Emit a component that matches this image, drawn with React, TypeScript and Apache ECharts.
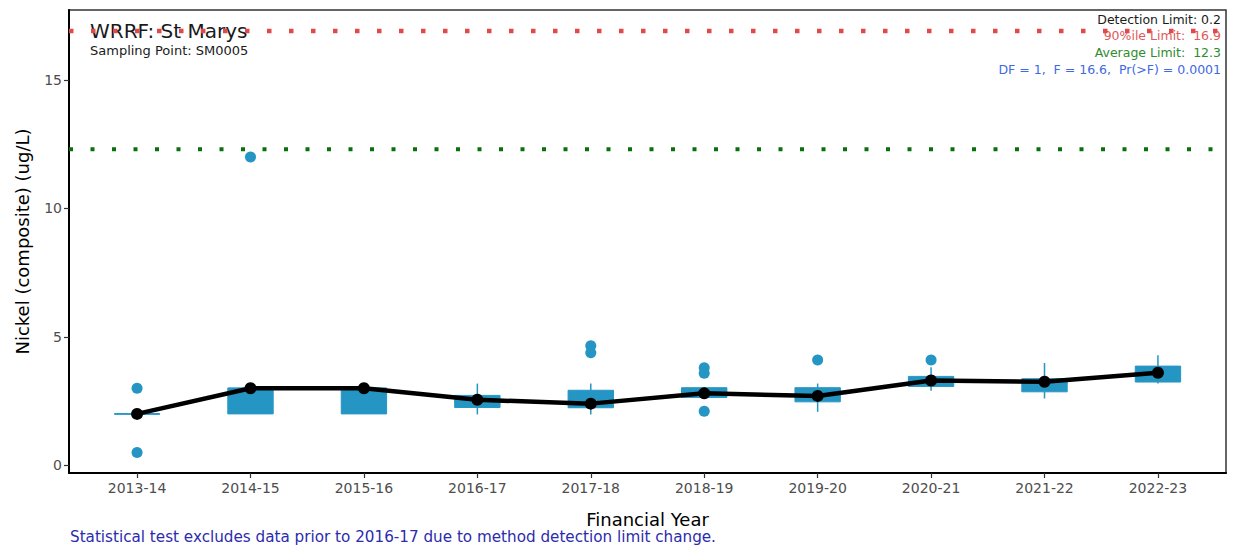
import React, { useEffect, useRef } from 'react';
import * as echarts from 'echarts';

const categories = ['2013-14', '2014-15', '2015-16', '2016-17', '2017-18', '2018-19', '2019-20', '2020-21', '2021-22', '2022-23'];
const whiskerLow = [2.0, 2.0, 2.0, 1.98, 1.98, 2.64, 2.08, 2.9, 2.6, 3.18];
const q1 = [2.0, 2.0, 2.0, 2.25, 2.24, 2.64, 2.47, 3.07, 2.86, 3.24];
const median = [2.0, 3.0, 3.0, 2.5, 2.5, 2.8, 2.7, 3.3, 3.2, 3.6];
const q3 = [2.0, 3.0, 3.0, 2.72, 2.92, 3.02, 3.02, 3.46, 3.37, 3.86];
const whiskerHigh = [2.0, 3.0, 3.0, 3.18, 3.18, 3.02, 3.18, 3.82, 3.98, 4.28];
const means = [2.0, 3.0, 3.0, 2.55, 2.4, 2.8, 2.7, 3.3, 3.25, 3.6];
const outliers: [number, number][] = [
  [0, 3.0], [0, 0.5], [1, 12.0], [4, 4.65], [4, 4.38], [5, 3.8], [5, 3.58], [5, 2.1], [6, 4.1], [7, 4.1],
];
const yTicks = [0, 5, 10, 15];
const xTicks = categories.map((_, i) => i);
const limit90 = 16.9;
const averageLimit = 12.3;
const xMin = -0.6;
const xMax = 9.6;
const yMin = -0.3;
const yMax = 17.72;

const FONT = 'DejaVu Sans, Liberation Sans, sans-serif';
const BOX = '#2596C4';

export default function App() {
  const ref = useRef<HTMLDivElement>(null);
  useEffect(() => {
    if (!ref.current) return;
    const chart = echarts.init(ref.current, null, { renderer: 'svg' });
    const option: any = {
      animation: false,
      backgroundColor: '#ffffff',
      textStyle: { fontFamily: FONT },
      grid: {
        left: 69, right: 8, top: 10, bottom: 77,
        show: true, borderColor: '#333', borderWidth: 1.5, backgroundColor: 'transparent',
      },
      xAxis: {
        type: 'value', min: xMin, max: xMax,
        name: 'Financial Year', nameLocation: 'middle', nameGap: 37,
        nameTextStyle: { fontSize: 18, color: '#000', fontFamily: FONT },
        axisLine: { show: true, onZero: false, lineStyle: { color: '#000', width: 2 } },
        axisTick: { show: true, length: 5, lineStyle: { color: '#333', width: 1.2 }, customValues: xTicks },
        axisLabel: {
          color: '#4D4D4D', fontSize: 14, margin: 8, fontFamily: FONT,
          customValues: xTicks,
          formatter: (v: number) => categories[Math.round(v)] ?? '',
        },
        splitLine: { show: false },
      },
      yAxis: {
        type: 'value', min: yMin, max: yMax,
        name: 'Nickel (composite) (ug/L)', nameLocation: 'middle', nameGap: 38,
        nameTextStyle: { fontSize: 18, color: '#000', fontFamily: FONT },
        axisLine: { show: true, onZero: false, lineStyle: { color: '#000', width: 2 } },
        axisTick: { show: true, length: 5, lineStyle: { color: '#333', width: 1.2 }, customValues: yTicks },
        axisLabel: { color: '#4D4D4D', fontSize: 14, margin: 7, fontFamily: FONT, customValues: yTicks },
        splitLine: { show: false },
      },
      graphic: {
        elements: [
          { type: 'text', z: 0, style: { text: 'WRRF: St Marys', x: 90, y: 31, fontSize: 20, fontFamily: FONT, fill: '#1a1a1a', verticalAlign: 'middle' } },
          { type: 'text', z: 0, style: { text: 'Sampling Point: SM0005', x: 90, y: 50, fontSize: 13, fontFamily: FONT, fill: '#1a1a1a', verticalAlign: 'middle' } },
          { type: 'text', z: 0, style: { text: 'Detection Limit: 0.2', x: 1221, y: 19, fontSize: 12.5, fontFamily: FONT, fill: '#1a1a1a', align: 'right', verticalAlign: 'middle' } },
          { type: 'text', z: 0, style: { text: '90%ile Limit:  16.9', x: 1221, y: 35, fontSize: 12.5, fontFamily: FONT, fill: '#E05A5A', align: 'right', verticalAlign: 'middle' } },
          { type: 'text', z: 0, style: { text: 'Average Limit:  12.3', x: 1221, y: 52, fontSize: 12.5, fontFamily: FONT, fill: '#2E8B2E', align: 'right', verticalAlign: 'middle' } },
          { type: 'text', z: 0, style: { text: 'DF = 1,  F = 16.6,  Pr(>F) = 0.0001', x: 1221, y: 69, fontSize: 12.5, fontFamily: FONT, fill: '#4169E1', align: 'right', verticalAlign: 'middle' } },
          { type: 'text', z: 0, style: { text: 'Statistical test excludes data prior to 2016-17 due to method detection limit change.', x: 70, y: 537, fontSize: 15.2, fontFamily: FONT, fill: '#2B2BAE', verticalAlign: 'middle' } },
        ],
      },
      series: [
        {
          type: 'custom',
          z: 2,
          data: categories.map((_, i) => [i, whiskerLow[i], q1[i], median[i], q3[i], whiskerHigh[i]]),
          encode: { x: 0, y: [1, 2, 3, 4, 5] },
          renderItem: (params: any, api: any) => {
            const x = api.value(0);
            const lo = api.coord([x, api.value(1)]);
            const b1 = api.coord([x, api.value(2)]);
            const md = api.coord([x, api.value(3)]);
            const b3 = api.coord([x, api.value(4)]);
            const hi = api.coord([x, api.value(5)]);
            const w = api.size([0.4, 0])[0];
            const cx = lo[0];
            return {
              type: 'group',
              children: [
                { type: 'line', shape: { x1: cx, y1: hi[1], x2: cx, y2: b3[1] }, style: { stroke: BOX, lineWidth: 1.5 } },
                { type: 'line', shape: { x1: cx, y1: b1[1], x2: cx, y2: lo[1] }, style: { stroke: BOX, lineWidth: 1.5 } },
                { type: 'rect', shape: { x: cx - w / 2, y: b3[1], width: w, height: b1[1] - b3[1] }, style: { fill: BOX, stroke: BOX, lineWidth: 1 } },
                { type: 'line', shape: { x1: cx - w / 2, y1: md[1], x2: cx + w / 2, y2: md[1] }, style: { stroke: BOX, lineWidth: 1.5 } },
              ],
            };
          },
        },
        {
          type: 'scatter',
          z: 3,
          data: outliers,
          symbol: 'circle',
          symbolSize: 11,
          itemStyle: { color: BOX, opacity: 1 },
        },
        {
          type: 'line',
          z: 4,
          data: [[xMin, limit90], [xMax, limit90]],
          symbol: 'none',
          lineStyle: { color: '#E04A4A', width: 4.5, type: [4.5, 17.5], cap: 'butt' },
        },
        {
          type: 'line',
          z: 4,
          data: [[xMin, averageLimit], [xMax, averageLimit]],
          symbol: 'none',
          lineStyle: { color: '#0A700A', width: 4, type: [4, 17.5], cap: 'butt' },
        },
        {
          type: 'line',
          z: 5,
          data: means.map((m, i) => [i, m]),
          symbol: 'circle',
          symbolSize: 12,
          itemStyle: { color: '#000' },
          lineStyle: { color: '#000', width: 4.5 },
        },
      ],
    };
    chart.setOption(option);
    return () => chart.dispose();
  }, []);
  return <div ref={ref} style={{ position: 'absolute', left: 0, top: 0, width: 1234, height: 550 }} />;
}
